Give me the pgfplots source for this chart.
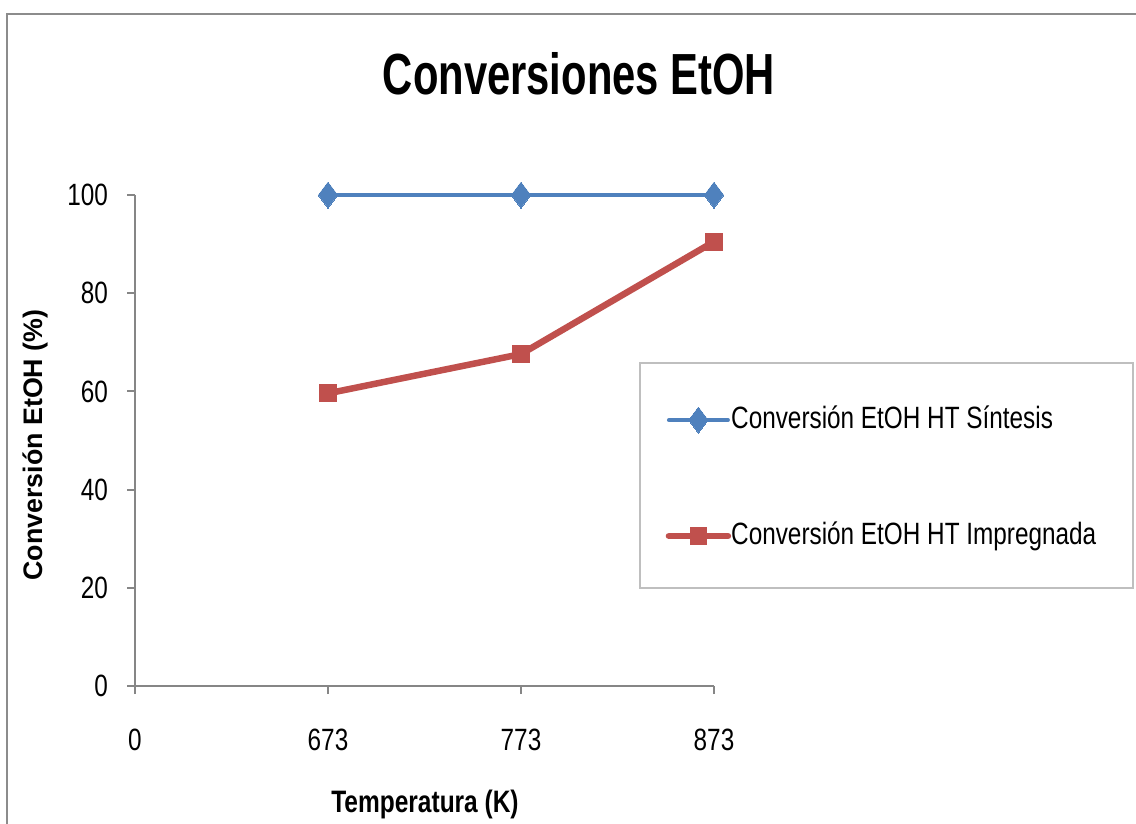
\documentclass[border=0pt]{standalone}
\usepackage{fontspec}
\usepackage{pgfplots}
\pgfplotsset{compat=1.18}
\setmainfont[FakeStretch=0.79]{Liberation Sans}
\newfontfamily\titlefont[FakeStretch=0.72]{Liberation Sans}
\newfontfamily\ylabelfont{Liberation Sans}

\definecolor{sintesis}{HTML}{4F81BD}
\definecolor{impreg}{HTML}{C0504D}
\definecolor{axisgray}{HTML}{868686}
\definecolor{framegray}{HTML}{8C8C8C}
\definecolor{legendgray}{HTML}{BFBFBF}

\begin{document}
\begin{tikzpicture}
% page area
\path[use as bounding box] (0,0) rectangle (568pt,-412pt);
% chart frame
\draw[framegray, line width=1pt] (3.5pt,-414pt) -- (3.5pt,-7pt) -- (570pt,-7pt);
% legend frame
\draw[legendgray, line width=0.75pt] (320pt,-181.5pt) rectangle (566.5pt,-294pt);

\begin{axis}[
  at={(67.5pt,-343pt)}, anchor=south west,
  scale only axis, width=289.5pt, height=245.5pt,
  xmin=0, xmax=3, ymin=0, ymax=100,
  axis x line=bottom, axis y line=left,
  axis line style={-, draw=axisgray, line width=1pt},
  xtick={0,1,2,3}, xticklabels={0,673,773,873},
  ytick={0,20,40,60,80,100},
  tick align=outside, major tick length=4pt,
  tick style={draw=axisgray, line width=1pt},
  ticklabel style={font=\fontsize{15.4}{18}\selectfont},
  /pgf/number format/assume math mode=true,
  yticklabel style={xshift=-6pt},
  xticklabel style={yshift=-14pt},
  clip=false,
  legend style={draw=none, fill=none, at={(0.9055,0.4235)}, anchor=west,
    font=\fontsize{15.4}{18}\selectfont, row sep=44pt, column sep=0pt,
    nodes={inner sep=0pt, text height=11pt, text depth=3pt}},
  legend cell align=left,
  legend image code/.code={%
    \draw[mark repeat=2, mark phase=2, line cap=round]
      plot coordinates {(0pt,0pt) (14.75pt,0pt) (29.5pt,0pt)};},
]
\addplot[sintesis, line width=2pt, mark=diamond*, mark size=6.5pt,
  mark options={solid, line width=0pt}]
  coordinates {(1,100) (2,100) (3,100)};
\addlegendentry{Conversión EtOH HT Síntesis}
\addplot[impreg, line width=3.25pt, mark=square*, mark size=4.2pt,
  mark options={solid, line width=0pt}]
  coordinates {(1,59.6) (2,67.6) (3,90.5)};
\addlegendentry{Conversión EtOH HT Impregnada}
\end{axis}

% titles
\node[anchor=base, font=\titlefont\bfseries\fontsize{29}{34}\selectfont]
  at (289.5pt,-47.5pt) {Conversiones EtOH};
\node[anchor=base, font=\bfseries\fontsize{15.5}{18}\selectfont]
  at (212.5pt,-406pt) {Temperatura (K)};
\node[anchor=base, rotate=90, font=\ylabelfont\bfseries\fontsize{13.4}{16}\selectfont]
  at (21pt,-222.5pt) {Conversión EtOH (\%)};
\end{tikzpicture}
\end{document}
